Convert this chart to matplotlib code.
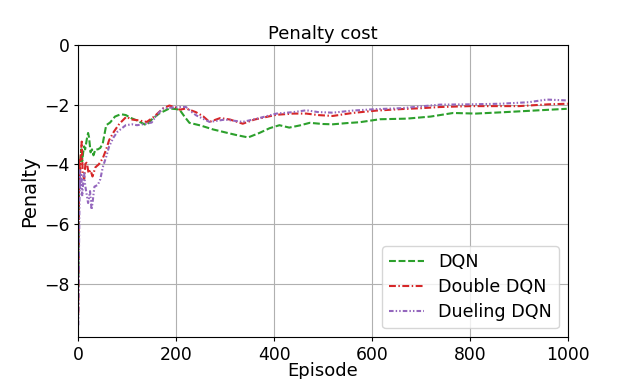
import matplotlib
matplotlib.use("Agg")
import matplotlib.pyplot as plt

dqn_ep = [0, 1, 2, 4, 6, 8, 10, 12, 14, 16, 18, 20, 22, 25, 28, 31, 35, 40, 45, 50, 57, 65, 75, 87, 97, 108, 118, 128, 139, 150, 165, 186, 200, 207, 217, 227, 250, 275, 300, 323, 347, 370, 391, 411, 431, 452, 473, 500, 520, 548, 575, 616, 671, 720, 766, 812, 862, 930, 998]
dqn_val = [-8.1, -6.0, -4.0, -3.9, -3.5, -3.9, -3.6, -3.4, -3.5, -3.3, -3.1, -2.95, -3.1, -3.6, -3.5, -3.7, -3.5, -3.5, -3.45, -3.3, -2.69, -2.6, -2.4, -2.32, -2.35, -2.45, -2.52, -2.6, -2.69, -2.5, -2.3, -2.13, -2.15, -2.17, -2.4, -2.61, -2.7, -2.83, -2.93, -3.02, -3.1, -2.95, -2.79, -2.69, -2.77, -2.7, -2.61, -2.65, -2.66, -2.62, -2.59, -2.49, -2.47, -2.4, -2.28, -2.3, -2.26, -2.2, -2.14]

ddqn_ep = [0, 1, 2, 3, 5, 7, 9, 12, 15, 18, 21, 25, 29, 35, 42, 50, 57, 63, 73, 84, 98, 110, 120, 130, 140, 155, 173, 186, 200, 207, 220, 240, 255, 268, 290, 310, 336, 360, 405, 440, 466, 490, 520, 560, 609, 660, 700, 739, 800, 900, 960, 1000]
ddqn_val = [-9.0, -5.5, -3.8, -4.6, -3.7, -3.24, -4.3, -4.5, -3.9, -4.0, -4.3, -4.2, -4.41, -4.1, -4.0, -3.8, -3.5, -3.19, -2.9, -2.64, -2.41, -2.5, -2.52, -2.55, -2.58, -2.4, -2.13, -2.03, -2.1, -2.17, -2.13, -2.25, -2.39, -2.58, -2.45, -2.5, -2.64, -2.5, -2.34, -2.3, -2.3, -2.35, -2.38, -2.28, -2.2, -2.15, -2.12, -2.08, -2.05, -2.05, -1.99, -1.97]

duel_ep = [0, 1, 2, 3, 4, 6, 8, 10, 12, 14, 17, 20, 24, 27, 29, 33, 40, 45, 50, 57, 63, 72, 80, 97, 110, 120, 135, 150, 160, 173, 190, 207, 220, 232, 241, 268, 300, 336, 370, 405, 440, 466, 490, 520, 560, 609, 660, 739, 800, 862, 920, 957, 1000]
duel_val = [-9.4, -7.5, -5.96, -4.2, -4.8, -4.3, -5.07, -4.6, -4.3, -4.7, -5.0, -5.3, -4.9, -5.52, -5.3, -4.75, -4.69, -4.5, -4.1, -3.75, -3.4, -3.1, -2.91, -2.69, -2.66, -2.69, -2.65, -2.6, -2.35, -2.13, -2.1, -2.08, -2.08, -2.25, -2.36, -2.58, -2.5, -2.58, -2.45, -2.3, -2.25, -2.19, -2.25, -2.27, -2.2, -2.15, -2.12, -2.0, -1.99, -1.97, -1.92, -1.83, -1.86]

labels = ["DQN", "Double DQN", "Dueling DQN"]

fig = plt.figure(figsize=(6.31, 3.79), dpi=100)
ax = fig.add_axes([78.3 / 631, 1 - 337.2 / 379, 489.4 / 631, 292.2 / 379])
ax.plot(dqn_ep, dqn_val, color="tab:green", linestyle=(0, (3.3, 1.3)), lw=1.5, label=labels[0])
ax.plot(ddqn_ep, ddqn_val, color="tab:red", linestyle=(0, (3.3, 1.2, 0.7, 1.2)), lw=1.5, label=labels[1])
ax.plot(duel_ep, duel_val, color="tab:purple", linestyle=(0, (2.2, 1.0, 0.7, 1.0, 0.7, 1.0)), lw=1.5, label=labels[2])
ax.set_xlim(0, 1000)
ax.set_ylim(-9.8, 0)
ax.set_yticks([-8, -6, -4, -2, 0])
ax.set_xticks([0, 200, 400, 600, 800, 1000])
ax.tick_params(labelsize=12.4, length=3, pad=3)
ax.grid(True)
ax.set_title("Penalty cost", fontsize=13, pad=4)
ax.set_xlabel("Episode", fontsize=13, labelpad=-1)
ax.set_ylabel("Penalty", fontsize=14)
ax.legend(loc="lower right", fontsize=12.6, labelspacing=0.4)
fig.savefig("out.png", dpi=100)
